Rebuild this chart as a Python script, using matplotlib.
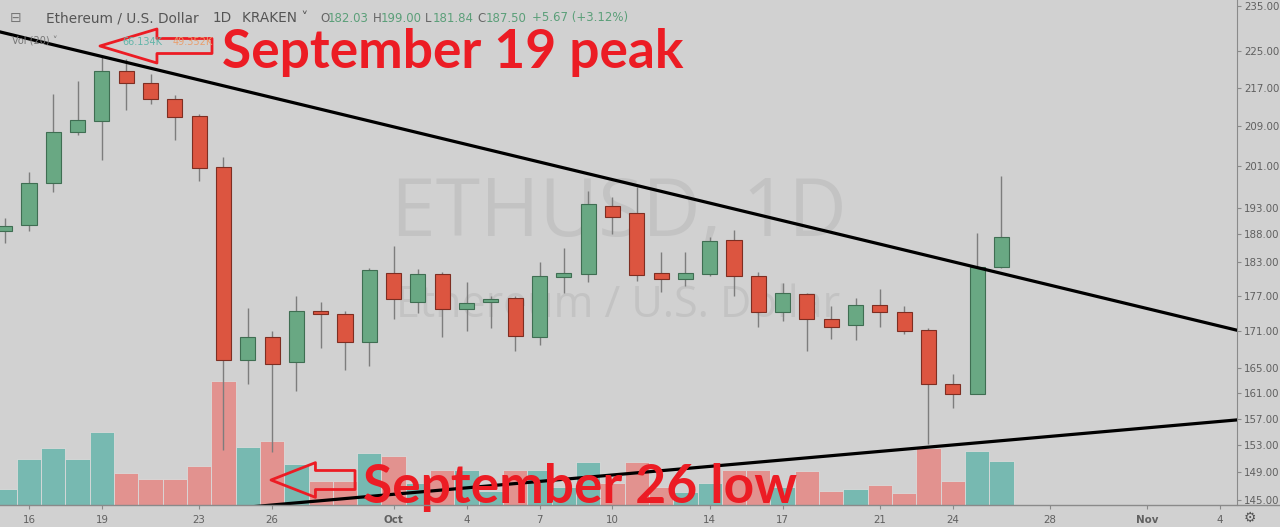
import matplotlib
matplotlib.use('Agg')
import matplotlib.pyplot as plt
import matplotlib.dates as mdates
from matplotlib.ticker import FixedLocator, FormatStrFormatter, NullLocator
import numpy as np
import pandas as pd

# daily ETH/USD candles (Kraken), Sep 15 - Oct 26 2019
dates = pd.date_range('2019-09-15', '2019-10-26', freq='D')
opens = [188.7, 189.7, 197.7, 207.8, 210.0, 220.6, 217.9, 214.7, 211.0, 200.8,
         166.2, 170.0, 165.9, 174.5, 174.0, 169.3, 181.0, 176.0, 180.9, 174.8,
         176.0, 176.7, 170.0, 180.3, 180.9, 193.2, 191.9, 181.0, 180.0, 180.9,
         186.9, 180.5, 174.3, 177.4, 173.0, 172.0, 175.5, 174.3, 171.3, 162.4,
         160.8, 182.03]
highs = [191.1, 199.9, 215.6, 218.3, 223.9, 223.2, 220.0, 215.4, 211.4, 202.8,
         175.0, 171.0, 177.0, 176.0, 174.5, 182.0, 185.8, 181.8, 181.2, 179.5,
         177.0, 177.0, 183.0, 185.5, 196.2, 194.9, 197.0, 184.8, 184.8, 187.6,
         188.8, 181.2, 179.3, 177.6, 175.3, 176.7, 178.2, 175.3, 171.6, 164.0,
         188.2, 199.00]
lows = [186.5, 188.6, 196.0, 207.2, 202.2, 212.2, 213.5, 206.2, 198.1, 152.3,
        162.4, 151.9, 161.3, 168.2, 164.6, 165.3, 173.1, 174.1, 170.1, 171.1,
        171.6, 167.8, 168.7, 177.6, 179.5, 188.0, 179.7, 177.7, 178.8, 180.5,
        177.0, 171.8, 172.8, 167.7, 169.8, 169.5, 171.8, 170.5, 153.1, 158.6,
        160.8, 181.84]
closes = [189.5, 197.7, 207.8, 210.2, 220.6, 217.9, 214.7, 210.8, 200.6, 166.2,
          170.0, 165.7, 174.5, 174.0, 169.3, 181.6, 176.5, 180.9, 174.7, 175.8,
          176.5, 170.3, 180.5, 181.0, 193.6, 191.3, 180.7, 180.0, 181.0, 186.7,
          180.5, 174.3, 177.6, 173.0, 171.8, 175.5, 174.3, 171.1, 162.4, 160.8,
          182.03, 187.50]
volumes = [24, 69, 86, 69, 110, 48, 39, 39, 59, 186,
           87, 96, 62, 36, 36, 78, 74, 33, 53, 53,
           21, 53, 53, 27, 65, 33, 65, 27, 20, 33,
           53, 53, 27, 51, 21, 24, 30, 18, 86, 36,
           81, 66.134]  # thousands

price_ticks = [145, 149, 153, 157, 161, 165, 171, 177, 183, 188, 193, 201, 209, 217, 225, 235]
date_ticks = ['2019-09-16', '2019-09-19', '2019-09-23', '2019-09-26', '2019-10-01',
              '2019-10-04', '2019-10-07', '2019-10-10', '2019-10-14', '2019-10-17',
              '2019-10-21', '2019-10-24', '2019-10-28', '2019-11-01', '2019-11-04']
date_labels = ['16', '19', '23', '26', 'Oct', '4', '7', '10', '14', '17',
               '21', '24', '28', 'Nov', '4']

# trend lines drawn on the chart, two anchor points each
upper_dates = ['2019-09-19', '2019-10-25']
upper_prices = [223.7, 182.0]
lower_dates = ['2019-09-26', '2019-10-23']
lower_prices = [144.3, 152.7]

BG = '#d1d1d1'
GREEN = '#69a883'
RED = '#dc5540'
VOL_GREEN = '#77b9b1'
VOL_RED = '#e2928f'
ANNOT = '#ec1c24'

fig = plt.figure(figsize=(12.8, 5.27), dpi=100, facecolor=BG)
rect = [0, 22 / 527, 1237 / 1280, 505 / 527]
axv = fig.add_axes(rect)
ax = fig.add_axes(rect, sharex=axv)
axv.set_facecolor(BG)
ax.patch.set_visible(False)

x = mdates.date2num(dates)
o = np.array(opens)
h = np.array(highs)
l = np.array(lows)
c = np.array(closes)
up = c >= o

# volume
axv.bar(x, volumes, width=1.0, color=np.where(up, VOL_GREEN, VOL_RED),
        edgecolor='#dadada', linewidth=0.6, zorder=2)
axv.set_ylim(0, 759)
axv.axis('off')

# watermark
axv.text(0.5, 0.574, 'ETHUSD, 1D', transform=axv.transAxes, ha='center', va='center',
         fontsize=58, color='#c3c3c3', family='Open Sans', zorder=1)
axv.text(0.5, 0.394, 'Ethereum / U.S. Dollar', transform=axv.transAxes, ha='center',
         va='center', fontsize=31, color='#c3c3c3', family='Open Sans', zorder=1)

# candles
ax.vlines(x, l, h, color='#7d7d7d', linewidth=1, zorder=2)
ax.bar(x, np.abs(c - o), bottom=np.minimum(o, c), width=0.62,
       color=np.where(up, GREEN, RED), edgecolor=np.where(up, '#3f6e52', '#7e2e22'),
       linewidth=0.8, zorder=3)

ax.set_yscale('log')
x0 = mdates.date2num(pd.Timestamp('2019-09-16'))
ax.set_xlim(x0 - 29 / 24.31, x0 + 1208 / 24.31)
ax.set_ylim(144.3, 236.4)

# trend lines, extended across the whole chart
xl = np.array(ax.get_xlim())
for dts, prs in [(upper_dates, upper_prices), (lower_dates, lower_prices)]:
    dx = mdates.date2num(pd.to_datetime(dts))
    k = (np.log(prs[1]) - np.log(prs[0])) / (dx[1] - dx[0])
    ax.plot(xl, np.exp(np.log(prs[0]) + k * (xl - dx[0])), color='black', lw=2.3, zorder=4)

ax.yaxis.tick_right()
ax.yaxis.set_major_locator(FixedLocator(price_ticks))
ax.yaxis.set_minor_locator(NullLocator())
ax.yaxis.set_major_formatter(FormatStrFormatter('%.2f'))
ax.set_xticks(mdates.date2num(pd.to_datetime(date_ticks)))
ax.set_xticklabels(date_labels)
ax.tick_params(axis='y', colors='#8a8a8a', labelcolor='#606060', labelsize=7.4,
               length=3, pad=2)
ax.tick_params(axis='x', colors='#8a8a8a', labelcolor='#606060', labelsize=7.4,
               length=3, pad=4)
for lab in ax.get_xticklabels():
    if lab.get_text() in ('Oct', 'Nov'):
        lab.set_fontweight('bold')
for s in ['top', 'left', 'bottom']:
    ax.spines[s].set_visible(False)
ax.spines['right'].set_color('#8a8a8a')
fig.add_artist(plt.Line2D([0, 1], [22 / 527, 22 / 527], color='#8a8a8a', lw=1))

# header
hy = 1 - 18 / 527
fig.text(10 / 1280, hy, '\u229f', fontsize=10, color='#777777', va='center')
fig.text(46 / 1280, hy, 'Ethereum / U.S. Dollar', fontsize=9.8, color='#555555', va='center')
fig.text(213 / 1280, hy, '1D', fontsize=9.8, color='#555555', va='center')
fig.text(242 / 1280, hy, 'KRAKEN \u02c5', fontsize=9.8, color='#555555', va='center')
xpos = 320
for key, val in [('O', '182.03'), ('H', '199.00'), ('L', '181.84'), ('C', '187.50')]:
    fig.text(xpos / 1280, hy, key, fontsize=8.5, color='#666666', va='center')
    fig.text((xpos + 8) / 1280, hy, val, fontsize=8.5, color='#5b9f79', va='center')
    xpos += 52.5
fig.text((xpos + 2) / 1280, hy, '+5.67 (+3.12%)', fontsize=8.5, color='#5b9f79', va='center')
fig.text(12 / 1280, 1 - 42 / 527, 'Vol (20) \u02c5', fontsize=7, color='#777777', va='center')
fig.text(122 / 1280, 1 - 42 / 527, '66.134K', fontsize=7, color='#63b5a9', va='center')
fig.text(173 / 1280, 1 - 42 / 527, '49.352K', fontsize=7, color='#e8a070', va='center')

# annotations
ax.annotate('', xy=(100 / 1237, 1 - 46 / 505), xytext=(212 / 1237, 1 - 46 / 505),
            xycoords='axes fraction', textcoords='axes fraction',
            arrowprops=dict(arrowstyle='simple,head_length=41,head_width=24.5,tail_width=10.8',
                            mutation_scale=1, fc='none', ec=ANNOT, lw=2,
                            shrinkA=0, shrinkB=0), zorder=6)
ax.annotate('', xy=(271 / 1237, 1 - 480 / 505), xytext=(355 / 1237, 1 - 480 / 505),
            xycoords='axes fraction', textcoords='axes fraction',
            arrowprops=dict(arrowstyle='simple,head_length=32,head_width=25,tail_width=13.7',
                            mutation_scale=1, fc='none', ec=ANNOT, lw=2,
                            shrinkA=0, shrinkB=0), zorder=6)
ax.text(222 / 1237, 1 - 68 / 505, 'September 19 peak', transform=ax.transAxes,
        fontsize=38.4, fontweight='bold', family='Lato', color=ANNOT, va='baseline', zorder=7)
ax.text(363 / 1237, 1 - 503 / 505, 'September 26 low', transform=ax.transAxes,
        fontsize=38.4, fontweight='bold', family='Lato', color=ANNOT, va='baseline', zorder=7)

fig.text(1250 / 1280, 1 - 518 / 527, '\u2699', fontsize=10, color='#555555',
         ha='center', va='center')

plt.savefig('out.png', dpi=100, facecolor=BG)
